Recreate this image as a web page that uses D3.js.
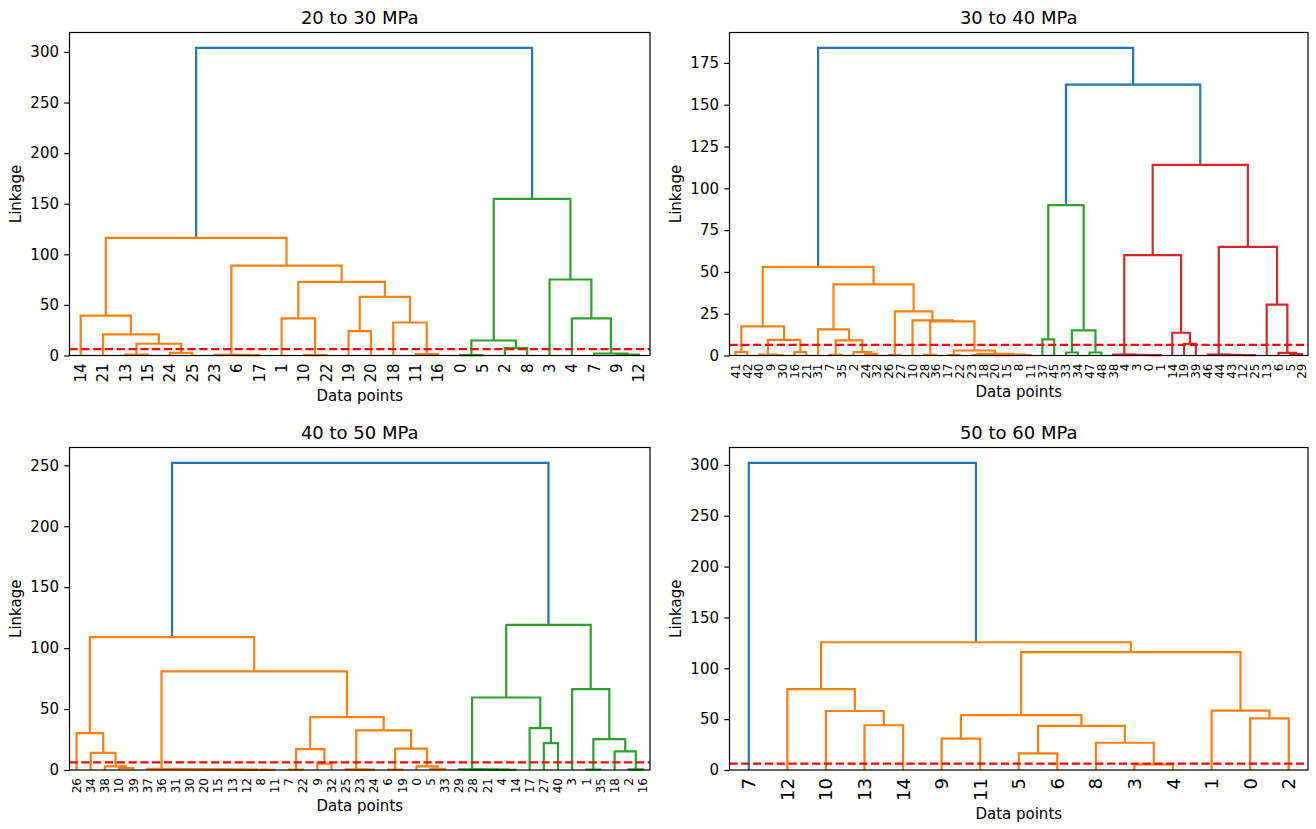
<!DOCTYPE html>
<html>
<head>
<meta charset="utf-8">
<script src="https://cdn.jsdelivr.net/npm/d3@7"></script>
<style>
  body { margin: 0; background: #fff; }
  text { font-family: "DejaVu Sans", sans-serif; fill: #000; }
</style>
</head>
<body>
<div id="chart"></div>
<script>
// Dendrograms: node = [height, left, right], leaf = data point id
var titles = ["20 to 30 MPa", "30 to 40 MPa", "40 to 50 MPa", "50 to 60 MPa"];

var tree20 = [304,
    [116.3,
        [39.5, 14, [20.8, 21, [11.6, [1, 13, 15], [2.6, 24, 25]]]],
        [88.9, [0.6, 23, [0.3, 6, 17]],
            [72.8, [36.6, 1, [0.4, 10, 22]], [58, [24, 19, 20], [32.6, 18, [1.5, 11, 16]]]]]],
    [154.8,
        [14.8, [0.4, 0, 5], [7.2, 2, 8]],
        [75.1, 3, [36.6, 4, [2, 7, [0.8, 9, 12]]]]]];

var tree30 = [184,
    [53,
        [17.4, [2, 41, 42], [9.4, [0.5, 40, [0.3, 9, 30]], [2, 16, 21]]],
        [42.6,
            [15.6, 31, [9, [0.4, 7, 35], [2, 2, [1, 24, 32]]]],
            [26.4, [0.3, 26, 27],
                [21, 10, [20.4, [0.4, 28, 36],
                    [3, [0.3, 17, 22], [1, [0.3, 23, 18], [0.6, [0.2, 20, 15], [0.3, 8, 11]]]]]]]]],
    [162,
        [90, [9.6, 37, 45], [15, [1.8, 33, 34], [1.8, 47, 48]]],
        [114,
            [60, [0.5, 38, [0.4, 4, [0.3, 3, [0.2, 0, 1]]]], [13.6, 14, [7, 19, 39]]],
            [65, [0.5, 46, [0.4, 44, [0.3, 43, [0.2, 12, 25]]]], [30.4, 13, [1.6, 6, [0.8, 5, 29]]]]]]];

var tree40 = [252,
    [109,
        [30.3, 26, [14, 34, [3, 38, [1.5, 10, 39]]]],
        [81,
            [0.9, 37, [0.8, 36, [0.7, 31, [0.6, 30, [0.5, 20, [0.4, 15, [0.3, 13, [0.2, 12, [0.1, 8, 11]]]]]]]]],
            [43.4,
                [17.2, [0.4, 7, 22], [5.2, 9, 32]],
                [32.5, [0.5, 25, [0.3, 23, 24]], [17.5, [0.4, 6, 19], [3, 0, [1, 5, 33]]]]]]],
    [119,
        [59.5, [0.5, 29, [0.4, 28, [0.3, 21, [0.2, 4, 14]]]], [34.4, 17, [22, 27, 40]]],
        [66.4, 3, [25.4, [0.4, 1, 35], [15.3, 18, [0.5, 2, 16]]]]]];

var tree50 = [302, 7,
    [125.6,
        [79.6, 12, [58, 10, [44, 13, 14]]],
        [116,
            [54, [30.8, 9, 11], [43.3, [16.4, 5, 6], [26.8, 8, [5.5, 3, 4]]]],
            [58.3, 1, [50.8, 0, 2]]]]];

var yTicks20 = [0, 50, 100, 150, 200, 250, 300];
var yTicks30 = [0, 25, 50, 75, 100, 125, 150, 175];
var yTicks40 = [0, 50, 100, 150, 200, 250];
var yTicks50 = [0, 50, 100, 150, 200, 250, 300];

var cutHeight = 6.3;

var trees = [tree20, tree30, tree40, tree50];
var yTicks = [yTicks20, yTicks30, yTicks40, yTicks50];

var width = 1316, height = 829;
var cols = [[69.5, 650], [729.5, 1308]];
var rows = [[32.5, 355.5], [447.5, 770]];
var palette = ["#ff7f0e", "#2ca02c", "#d62728", "#9467bd", "#8c564b"];
var aboveColor = "#1f77b4";

var svg = d3.select("#chart").append("svg")
    .attr("width", width).attr("height", height);
svg.append("rect").attr("width", width).attr("height", height).attr("fill", "#fff");

function build(node, leaves) {
    if (typeof node === "number") {
        leaves.push(node);
        return {leaf: true, pos: 5 + 10 * (leaves.length - 1), h: 0};
    }
    var a = build(node[1], leaves), b = build(node[2], leaves);
    return {leaf: false, h: node[0], a: a, b: b, pos: (a.pos + b.pos) / 2};
}

// same rule as scipy: clusters below 0.7*max get their own colour, in leaf order
function colour(node, thr, inherited, state, links) {
    if (node.leaf) return;
    var c = inherited;
    if (node.h < thr) {
        if (!c) { c = palette[state.k % palette.length]; state.k++; }
        node.color = c;
    } else {
        node.color = aboveColor;
        c = null;
    }
    links.push(node);
    colour(node.a, thr, c, state, links);
    colour(node.b, thr, c, state, links);
}

function drawPanel(p) {
    var tree = trees[p];
    var box = {x0: cols[p % 2][0], x1: cols[p % 2][1], y0: rows[Math.floor(p / 2)][0], y1: rows[Math.floor(p / 2)][1]};
    var leaves = [];
    var root = build(tree, leaves);
    var links = [];
    colour(root, 0.7 * root.h, null, {k: 0}, links);
    var n = leaves.length;

    var x = d3.scaleLinear().domain([0, 10 * n]).range([box.x0, box.x1]);
    var y = d3.scaleLinear().domain([0, 1.05 * root.h]).range([box.y1, box.y0]);
    var g = svg.append("g");

    // links
    var line = d3.line();
    g.selectAll(".link").data(links).enter().append("path")
        .attr("class", "link")
        .attr("d", function(d) {
            return line([[x(d.a.pos), y(d.a.h)], [x(d.a.pos), y(d.h)],
                         [x(d.b.pos), y(d.h)], [x(d.b.pos), y(d.b.h)]]);
        })
        .attr("fill", "none")
        .attr("stroke", function(d) { return d.color; })
        .attr("stroke-width", 2.2)
        .attr("stroke-linejoin", "miter");

    // cut line
    g.append("line")
        .attr("x1", box.x0).attr("x2", box.x1)
        .attr("y1", y(cutHeight)).attr("y2", y(cutHeight))
        .attr("stroke", "#ff0000").attr("stroke-width", 2.2)
        .attr("stroke-dasharray", "8.2,3.6");

    // frame
    g.append("rect")
        .attr("x", box.x0).attr("y", box.y0)
        .attr("width", box.x1 - box.x0).attr("height", box.y1 - box.y0)
        .attr("fill", "none").attr("stroke", "#000").attr("stroke-width", 1.2);

    // y axis
    var yAxis = g.append("g").attr("transform", "translate(" + box.x0 + ",0)")
        .call(d3.axisLeft(y).tickValues(yTicks[p]).tickSize(5.25).tickPadding(5.25));
    yAxis.select(".domain").remove();
    yAxis.selectAll("line").attr("stroke", "#000").attr("stroke-width", 1.2);
    yAxis.selectAll("text").style("font-size", "15px").attr("fill", "#000");

    // leaf labels
    var fs = n <= 20 ? 18 : (n <= 30 ? 15 : 12);
    g.selectAll(".leafLabel").data(leaves).enter().append("text")
        .attr("class", "leafLabel")
        .attr("transform", function(d, i) {
            return "translate(" + x(5 + 10 * i) + "," + (box.y1 + 8) + ") rotate(-90)";
        })
        .attr("text-anchor", "end")
        .attr("dy", "0.36em")
        .style("font-size", fs + "px")
        .text(function(d) { return d; });

    var labelW = 2 * 0.636 * fs;
    g.append("text")
        .attr("x", (box.x0 + box.x1) / 2)
        .attr("y", box.y1 + 8 + labelW + 18)
        .attr("text-anchor", "middle")
        .style("font-size", "15px")
        .text("Data points");

    g.append("text")
        .attr("transform", "translate(" + (box.x0 - 48.5) + "," + ((box.y0 + box.y1) / 2) + ") rotate(-90)")
        .attr("text-anchor", "middle")
        .style("font-size", "15px")
        .text("Linkage");

    g.append("text")
        .attr("x", (box.x0 + box.x1) / 2)
        .attr("y", box.y0 - 8.5)
        .attr("text-anchor", "middle")
        .style("font-size", "18px")
        .text(titles[p]);
}

for (var p = 0; p < 4; p++) drawPanel(p);
</script>
</body>
</html>
